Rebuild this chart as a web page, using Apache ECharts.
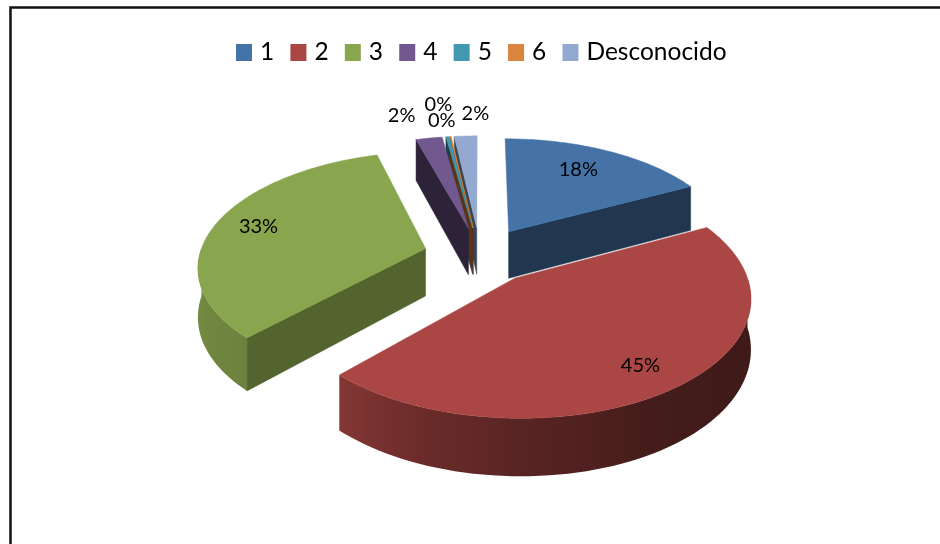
<!DOCTYPE html>
<html><head><meta charset="utf-8">
<style>html,body{margin:0;padding:0;background:#fff}#c{width:940px;height:544px}</style>
<script src="https://cdn.jsdelivr.net/npm/echarts@6/dist/echarts.min.js"></script>
</head><body><div id="c"></div>
<script>
// ---- data ----
var categories = ['1', '2', '3', '4', '5', '6', 'Desconocido'];
var values = [17.5, 44.6, 33.4, 2.2, 0.3, 0.1, 1.9];

// ---- style ----
var colors = ['#4572A7', '#AA4643', '#89A54E', '#71588F', '#4198AF', '#DB843D', '#93A9CF'];
var FONT = 'Lato, "Open Sans", sans-serif';

// ---- layout of the tilted pie ----
var CX = 480, CY = 255, SCALE_X = 226, SCALE_Y = 112.5, PERSP = 0.144, DEPTH = 48, EXPLODE = 0.25;
// Where each percent label sits: radius fraction of the slice, then a pixel nudge.
var labelRadius = [0.72, 0.8, 0.77, 1.28, 1.35, 1.2, 1.25];
var labelNudge = [[-4, -2], [-1, 3], [-5, -2], [-18, -1], [-2, -5], [-5, 0], [12, -3]];
// Wall brightness at given angles, in degrees around the pie.
var wallDeg = [90, 120, 150, 180, 200, 227, 270];
var wallLight = [0.37, 0.37, 0.4, 0.52, 0.62, 0.8, 0.85];

var total = values.reduce(function (a, b) { return a + b; }, 0);
var RAD = Math.PI / 180;

function project(u, v, drop) {
  var d = 1 + PERSP * v;
  return [CX + SCALE_X * u / d, CY - SCALE_Y * v / d + (drop ? DEPTH / d : 0)];
}
function mix(hex, f) {
  var n = parseInt(hex.slice(1), 16);
  var r = (n >> 16) & 255, g = (n >> 8) & 255, b = n & 255;
  return 'rgb(' + Math.round(r * f) + ',' + Math.round(g * f) + ',' + Math.round(b * f) + ')';
}
function wallShade(deg) {
  for (var i = 1; i < wallDeg.length; i++) {
    if (deg <= wallDeg[i]) {
      var t = (deg - wallDeg[i - 1]) / (wallDeg[i] - wallDeg[i - 1]);
      return wallLight[i - 1] + (wallLight[i] - wallLight[i - 1]) * t;
    }
  }
  return wallLight[wallLight.length - 1];
}
function faceShade(normalU) {
  return normalU > 0 ? 0.43 + 0.47 * Math.pow(normalU, 3) : 0.4;
}

function sliceRenderer(index) {
  var before = 0;
  for (var i = 0; i < index; i++) before += values[i];
  return function (params, api) {
    var value = api.value(0);
    var a0 = before / total * 360, a1 = (before + value) / total * 360, mid = (a0 + a1) / 2;
    var ou = EXPLODE * Math.sin(mid * RAD), ov = EXPLODE * Math.cos(mid * RAD);
    var pt = function (deg, r, drop) {
      return project(ou + r * Math.sin(deg * RAD), ov + r * Math.cos(deg * RAD), drop);
    };
    var color = colors[index];
    var z = Math.round(-ov * 1000);
    var children = [];

    // flat cut faces that point toward the viewer
    [[a0, -Math.cos(a0 * RAD), Math.sin(a0 * RAD)], [a1, Math.cos(a1 * RAD), -Math.sin(a1 * RAD)]].forEach(function (f) {
      if (f[2] < -1e-6) {
        var fc = mix(color, faceShade(f[1]));
        children.push({
          type: 'polygon', z2: z,
          shape: { points: [pt(0, 0, false), pt(f[0], 1, false), pt(f[0], 1, true), pt(0, 0, true)] },
          style: { fill: fc, stroke: fc, lineWidth: 0.5 }
        });
      }
    });
    // curved outer wall, shaded with a left-to-right gradient
    var from = Math.max(a0, 90), to = Math.min(a1, 270);
    if (to > from) {
      var upper = [], lower = [], samples = [];
      for (var d = from; ; d += 2) {
        var dd = Math.min(d, to);
        upper.push(pt(dd, 1, false));
        lower.unshift(pt(dd, 1, true));
        samples.push(dd);
        if (dd >= to) break;
      }
      var pts = upper.concat(lower);
      var xs = pts.map(function (p) { return p[0]; });
      var minX = Math.min.apply(null, xs), maxX = Math.max.apply(null, xs);
      var stops = samples.map(function (deg) {
        return { offset: (pt(deg, 1, false)[0] - minX) / (maxX - minX), color: mix(color, wallShade(deg)) };
      }).sort(function (a, b) { return a.offset - b.offset; });
      children.push({
        type: 'polygon', z2: z + 1,
        shape: { points: pts },
        style: { fill: { type: 'linear', x: 0, y: 0, x2: 1, y2: 0, colorStops: stops } }
      });
    }
    // top face
    var top = [pt(0, 0, false)];
    for (var t = a0; t < a1; t += 1) top.push(pt(t, 1, false));
    top.push(pt(a1, 1, false));
    children.push({
      type: 'polygon', z2: z + 2,
      shape: { points: top },
      style: { fill: color, stroke: color, lineWidth: 0.5 }
    });
    // percent label
    var lp = pt(mid, labelRadius[index], false);
    children.push({
      type: 'text', z2: 5000,
      style: {
        x: lp[0] + labelNudge[index][0], y: lp[1] + labelNudge[index][1],
        text: Math.round(value / total * 100) + '%',
        font: '20px ' + FONT, fill: '#000', align: 'center', verticalAlign: 'middle'
      }
    });
    return { type: 'group', children: children };
  };
}

var chart = echarts.init(document.getElementById('c'), null, { renderer: 'canvas' });
chart.setOption({
  animation: false,
  backgroundColor: '#fff',
  color: colors,
  legend: {
    left: 231, top: 35, icon: 'rect', itemWidth: 16, itemHeight: 17, itemGap: 16.2,
    data: categories, selectedMode: false,
    textStyle: { fontFamily: FONT, fontSize: 24.5, color: '#000', padding: [0, 0, 0, 3] }
  },
  graphic: [{
    type: 'polyline', silent: true,
    shape: { points: [[10.5, 544], [10.5, 7.5], [940, 7.5]] },
    style: { stroke: '#111', lineWidth: 2.5, fill: null }
  }],
  series: categories.map(function (name, i) {
    return {
      type: 'custom', name: name, coordinateSystem: 'none', silent: true,
      itemStyle: { color: colors[i] },
      renderItem: sliceRenderer(i),
      encode: { value: 0 },
      data: [[values[i]]]
    };
  })
});
</script></body></html>
